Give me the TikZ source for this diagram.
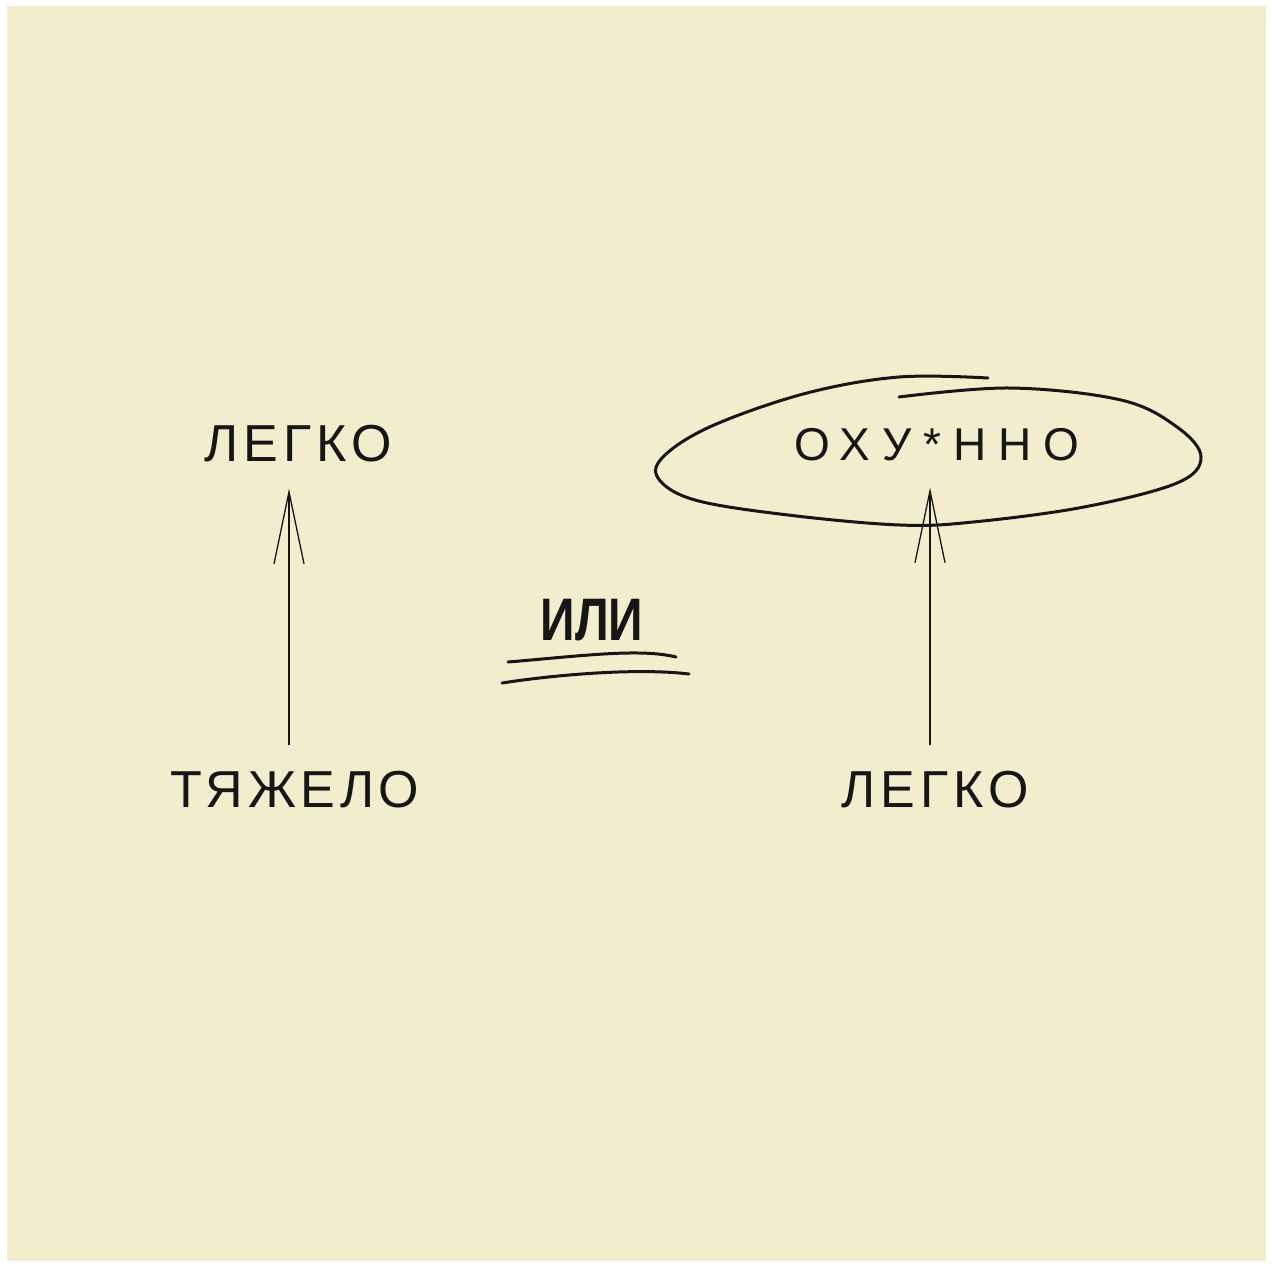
\documentclass[tikz,border=0pt]{standalone}
\usepackage{fontspec}
\setmainfont{Liberation Sans}
\usetikzlibrary{arrows.meta}

\definecolor{paper}{RGB}{242,237,204}
\definecolor{ink}{RGB}{22,22,22}

\tikzset{
  word/.style 2 args={inner sep=0pt, text=ink,
    font=\fontsize{#1}{#1}\selectfont\addfontfeatures{LetterSpace=#2}},
  boldword/.style={inner sep=0pt, text=ink,
    font=\fontsize{#1}{#1}\selectfont\bfseries},
  uparrow/.style={draw=ink, line width=1.3pt,
    -{Straight Barb[length=72pt,width=30pt,line width=1.3pt]},
    shorten <=26pt, shorten >=26pt},
  pen/.style={draw=ink, line width=3pt, line cap=round, line join=round}
}

\begin{document}
\begin{tikzpicture}[x=1pt,y=-1pt]
% sheet
\fill[white] (0,0) rectangle (1273,1267);
\fill[paper] (7,6) rectangle (1266,1261);
\useasboundingbox (0,0) rectangle (1273,1267);

% left pair
\node[word={52}{10}] (legkoA) at (298,444) {ЛЕГКО};
\node[word={52}{9}] (tyazhelo) at (295,790) {ТЯЖЕЛО};
\draw[uparrow] ([xshift=-6pt]tyazhelo.north) -- ([xshift=-9pt]legkoA.south);

% middle word
\node[boldword=60] (ili) at (592,620) {\scalebox{0.8}[1]{ИЛИ}};
\draw[pen] (508,662) .. controls (580,656) and (640,648) .. (676,657);
\draw[pen] (502,683) .. controls (560,674) and (640,668) .. (689,674);

% right pair
\node[word={46}{26}] (oxu) at (937,445) {ОХУ*ННО};
\node[word={52}{10}] (legkoB) at (935,790) {ЛЕГКО};
\draw[uparrow] ([xshift=-5pt]legkoB.north) -- ([xshift=-7pt]oxu.south);

% loop round the top word
\draw[pen] plot[smooth, tension=0.6] coordinates {(899,397) (1010,388) (1121,400)
  (1177,427) (1201,457) (1177,483) (1084,507) (973,522) (900,525) (788,515)
  (695,500) (658,478) (665,455) (714,425) (807,393) (899,377) (988,378)};
\end{tikzpicture}
\end{document}
